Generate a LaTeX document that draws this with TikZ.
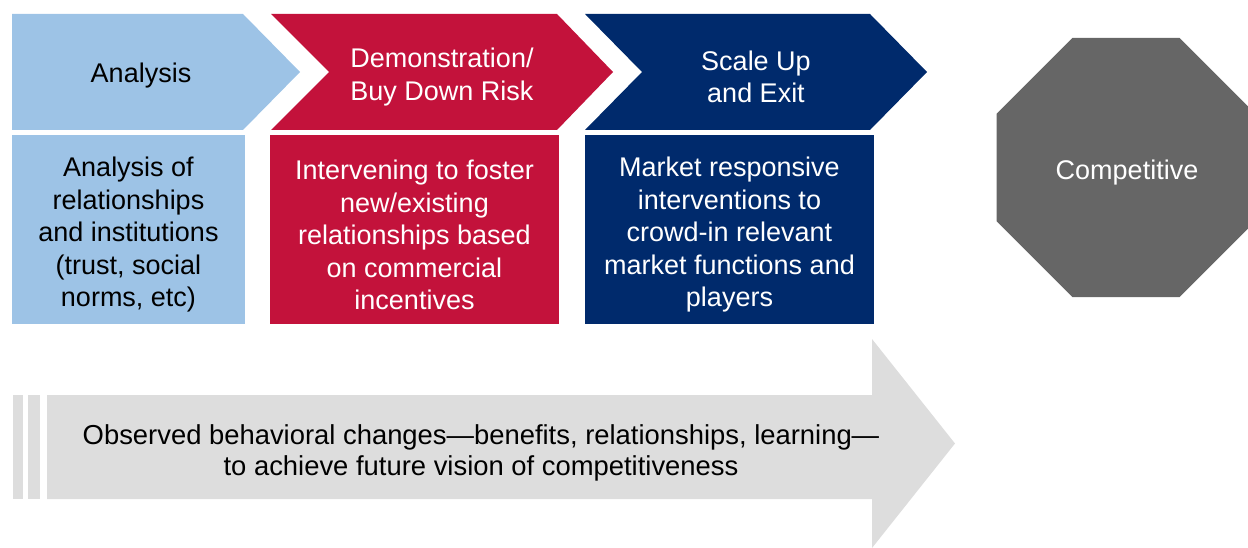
\documentclass[tikz,border=0pt]{standalone}
\usepackage{fontspec}
\setmainfont{Liberation Sans}
\definecolor{lblue}{HTML}{9DC3E6}
\definecolor{cred}{HTML}{C3123B}
\definecolor{navy}{HTML}{002A6C}
\definecolor{ogrey}{HTML}{666666}
\definecolor{agrey}{HTML}{DDDDDD}
\begin{document}
\begin{tikzpicture}[x=1pt,y=-1pt,
  txt/.style={align=center,font=\fontsize{27}{32.5}\selectfont,inner sep=0pt},
  btxt/.style={align=center,font=\fontsize{27.4}{31}\selectfont,inner sep=0pt}]
\useasboundingbox (0,0) rectangle (1248,548);
% chevrons
\fill[lblue] (12,14) -- (243,14) -- (300,72) -- (243,130) -- (12,130) -- cycle;
\fill[cred] (271,14) -- (557,14) -- (613,72) -- (557,130) -- (271,130) -- (329,72) -- cycle;
\fill[navy] (585,14) -- (870,14) -- (927,72) -- (870,130) -- (585,130) -- (642,72) -- cycle;
\node[txt,text=black] (t1) at (141,76) {Analysis};
\node[txt,text=white] (t2) at (442,77) {Demonstration/\\Buy Down Risk};
\node[txt,text=white] (t3) at (756,77) {Scale Up\\and Exit};
% boxes
\fill[lblue] (12,135) rectangle (245,324);
\fill[cred] (270,135) rectangle (559,324);
\fill[navy] (585,135) rectangle (874,324);
\node[txt,text=black] (b1) at (128.5,235) {Analysis of\\relationships\\and institutions\\(trust, social\\norms, etc)};
\node[txt,text=white] (b2) at (414.5,235) {Intervening to foster\\new/existing\\relationships based\\on commercial\\incentives};
\node[txt,text=white] (b3) at (729.5,235) {Market responsive\\interventions to\\crowd-in relevant\\market functions and\\players};
% octagon
\begin{scope}
\clip (0,0) rectangle (1248,548);
\fill[ogrey] (1072.4,38) -- (1179.6,38) -- (1255.5,113.9) -- (1255.5,221.1) -- (1179.6,297) -- (1072.4,297) -- (996.5,221.1) -- (996.5,113.9) -- cycle;
\end{scope}
\node[txt,text=white] (oct) at (1127,173) {Competitive};
% bottom arrow
\fill[agrey] (13,395) rectangle (23,499);
\fill[agrey] (28,395) rectangle (40,499);
\fill[agrey] (47,395) -- (872,395) -- (872,339) -- (955,443.5) -- (872,548) -- (872,499) -- (47,499) -- cycle;
\node[btxt,text=black] (arr) at (481,453) {Observed behavioral changes\textemdash benefits, relationships, learning\textemdash\\to achieve future vision of competitiveness};
\end{tikzpicture}
\end{document}
